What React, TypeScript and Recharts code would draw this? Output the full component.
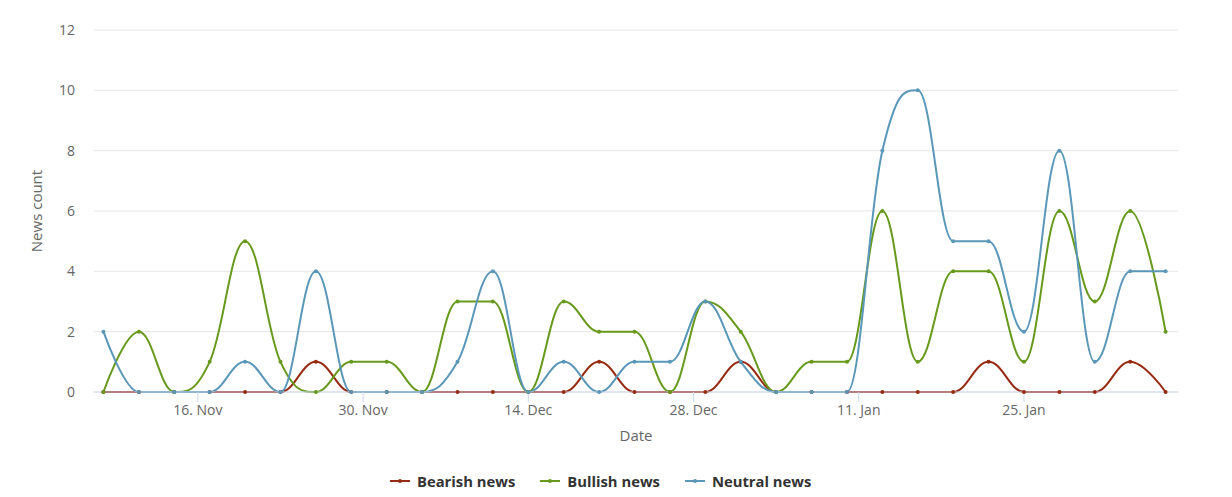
import React from 'react';
import { CartesianGrid, Label, Legend, Line, LineChart, XAxis, YAxis } from 'recharts';

const dates = [
  '2023-11-08', '2023-11-11', '2023-11-14', '2023-11-17', '2023-11-20', '2023-11-23',
  '2023-11-26', '2023-11-29', '2023-12-02', '2023-12-05', '2023-12-08', '2023-12-11',
  '2023-12-14', '2023-12-17', '2023-12-20', '2023-12-23', '2023-12-26', '2023-12-29',
  '2024-01-01', '2024-01-04', '2024-01-07', '2024-01-10', '2024-01-13', '2024-01-16',
  '2024-01-19', '2024-01-22', '2024-01-25', '2024-01-28', '2024-01-31', '2024-02-03',
  '2024-02-06',
];
const bearish = [0, 0, 0, 0, 0, 0, 1, 0, 0, 0, 0, 0, 0, 0, 1, 0, 0, 0, 1, 0, 0, 0, 0, 0, 0, 1, 0, 0, 0, 1, 0];
const bullish = [0, 2, 0, 1, 5, 1, 0, 1, 1, 0, 3, 3, 0, 3, 2, 2, 0, 3, 2, 0, 1, 1, 6, 1, 4, 4, 1, 6, 3, 6, 2];
const neutral = [2, 0, 0, 0, 1, 0, 4, 0, 0, 0, 1, 4, 0, 1, 0, 1, 1, 3, 1, 0, 0, 0, 8, 10, 5, 5, 2, 8, 1, 4, 4];

const xTicks = ['2023-11-16', '2023-11-30', '2023-12-14', '2023-12-28', '2024-01-11', '2024-01-25'];
const yTicks = [0, 2, 4, 6, 8, 10, 12];
const MONTHS = ['Jan', 'Feb', 'Mar', 'Apr', 'May', 'Jun', 'Jul', 'Aug', 'Sep', 'Oct', 'Nov', 'Dec'];

const SERIES = [
  { key: 'bearish', name: 'Bearish news', color: '#962b12' },
  { key: 'bullish', name: 'Bullish news', color: '#67991c' },
  { key: 'neutral', name: 'Neutral news', color: '#5a97b8' },
];

const DAY = 86400000;
const data = dates.map((d, i) => ({
  t: Date.parse(d),
  bearish: bearish[i],
  bullish: bullish[i],
  neutral: neutral[i],
}));
const xDomain = [data[0].t - 0.8 * DAY, data[data.length - 1].t + 1.05 * DAY];

const fmtDate = (v: number) => {
  const d = new Date(v);
  return `${d.getUTCDate()}. ${MONTHS[d.getUTCMonth()]}`;
};

// highcharts-style spline: smoothing 1.5, no false extremes
function hcSpline(context: any) {
  let pts: number[][] = [];
  return {
    areaStart() {},
    areaEnd() {},
    lineStart() { pts = []; },
    point(x: number, y: number) { pts.push([+x, +y]); },
    lineEnd() {
      if (!pts.length) return;
      const smoothing = 1.5;
      const denom = smoothing + 1;
      let prevRX = pts[0][0];
      let prevRY = pts[0][1];
      context.moveTo(pts[0][0], pts[0][1]);
      for (let i = 1; i < pts.length; i++) {
        const [px, py] = pts[i];
        const [lx, ly] = pts[i - 1];
        let leftX = px, leftY = py, rightX = px, rightY = py;
        if (i < pts.length - 1) {
          const [nx, ny] = pts[i + 1];
          leftX = (smoothing * px + lx) / denom;
          leftY = (smoothing * py + ly) / denom;
          rightX = (smoothing * px + nx) / denom;
          rightY = (smoothing * py + ny) / denom;
          let corr = 0;
          if (rightX !== leftX) {
            corr = ((rightY - leftY) * (rightX - px)) / (rightX - leftX) + py - rightY;
          }
          leftY += corr;
          rightY += corr;
          if (leftY > ly && leftY > py) {
            leftY = Math.max(ly, py);
            rightY = 2 * py - leftY;
          } else if (leftY < ly && leftY < py) {
            leftY = Math.min(ly, py);
            rightY = 2 * py - leftY;
          }
          if (rightY > ny && rightY > py) {
            rightY = Math.max(ny, py);
            leftY = 2 * py - rightY;
          } else if (rightY < ny && rightY < py) {
            rightY = Math.min(ny, py);
            leftY = 2 * py - rightY;
          }
        }
        context.bezierCurveTo(prevRX, prevRY, leftX, leftY, px, py);
        prevRX = rightX;
        prevRY = rightY;
      }
    },
  };
}

function LegendContent() {
  return (
    <div style={{ display: 'flex', alignItems: 'center', gap: 25 }}>
      {SERIES.map(s => (
        <div key={s.key} style={{ display: 'flex', alignItems: 'center', gap: 7 }}>
          <svg width={20} height={10}>
            <line x1={0} y1={5} x2={20} y2={5} stroke={s.color} strokeWidth={2} />
            <circle cx={10} cy={5} r={2} fill={s.color} />
          </svg>
          <span style={{ fontWeight: 'bold', fontSize: 14.8, color: '#333333' }}>{s.name}</span>
        </div>
      ))}
    </div>
  );
}

export default function App() {
  return (
    <div style={{ position: 'absolute', left: 0, top: 0, fontFamily: '"Open Sans", sans-serif' }}>
      <LineChart
        width={1232}
        height={497}
        data={data}
        margin={{ top: 30, right: 54, bottom: 17, left: 0 }}
        style={{ fontFamily: '"Open Sans", sans-serif' }}
      >
        <CartesianGrid vertical={false} stroke="#e6e6e6" />
        <XAxis
          dataKey="t"
          type="number"
          domain={xDomain}
          ticks={xTicks.map(d => Date.parse(d))}
          tickFormatter={fmtDate}
          height={88}
          axisLine={{ stroke: '#ccd6eb' }}
          tickLine={{ stroke: '#ccd6eb' }}
          tickSize={10}
          tickMargin={3}
          tick={{ fill: '#666666', fontSize: 14 }}
          allowDataOverflow
        >
          <Label value="Date" position="center" fill="#666666" fontSize={15} />
        </XAxis>
        <YAxis
          width={94}
          domain={[0, 12]}
          ticks={yTicks}
          axisLine={false}
          tickLine={false}
          tickSize={0}
          tickMargin={19}
          tick={{ fill: '#666666', fontSize: 14 }}
        >
          <Label value="News count" angle={-90} position="center" dx={-10} fill="#666666" fontSize={15} />
        </YAxis>
        <Legend
          verticalAlign="middle"
          align="center"
          layout="horizontal"
          content={<LegendContent />}
          wrapperStyle={{ top: 471, left: 390, width: 'auto' }}
        />
        {SERIES.map(s => (
          <Line
            key={s.key}
            dataKey={s.key}
            name={s.name}
            type={hcSpline as any}
            stroke={s.color}
            strokeWidth={2}
            dot={{ r: 2, fill: s.color, stroke: 'none' }}
            activeDot={false}
            isAnimationActive={false}
          />
        ))}
      </LineChart>
    </div>
  );
}
